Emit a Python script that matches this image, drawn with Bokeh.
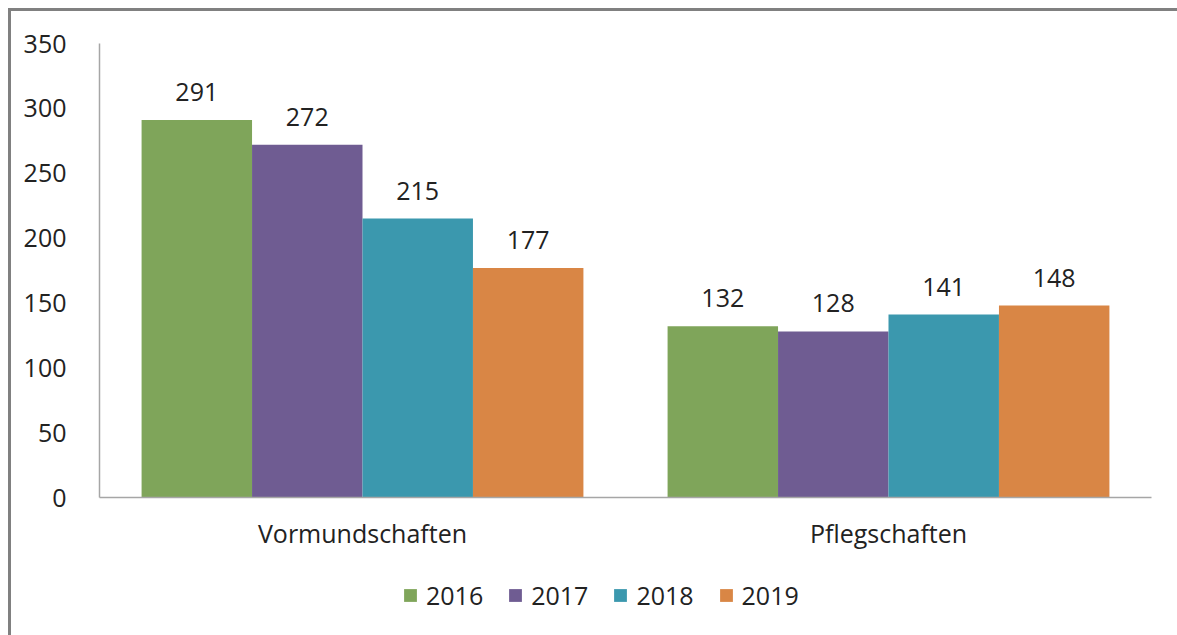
from bokeh.plotting import figure
from bokeh.layouts import column
from bokeh.models import ColumnDataSource, FactorRange, Range1d, Legend, LegendItem, LabelSet, FixedTicker
from bokeh.transform import dodge
from bokeh.core.properties import value
from bokeh.embed import file_html
from bokeh.resources import INLINE

categories = ["Vormundschaften", "Pflegschaften"]
years = ["2016", "2017", "2018", "2019"]
v2016 = [291, 132]
v2017 = [272, 128]
v2018 = [215, 141]
v2019 = [177, 148]
y_ticks = [0, 50, 100, 150, 200, 250, 300, 350]
colors = ["#7FA55A", "#6F5C92", "#3B98AE", "#D98645"]

FONT = "Open Sans"
TXT = "#222222"

series = [v2016, v2017, v2018, v2019]
source = ColumnDataSource(data=dict(cat=categories, **{y: s for y, s in zip(years, series)},
                                    **{"l" + y: [str(v) for v in s] for y, s in zip(years, series)}))

xr = FactorRange(*categories, range_padding=0)
p = figure(width=1166, height=560, x_range=xr,
           y_range=Range1d(0, 350), output_backend="svg", toolbar_location=None,
           min_border_left=88, min_border_top=32, min_border_right=26, min_border_bottom=74,
           outline_line_color=None)

w = 0.21
offsets = [-0.315, -0.105, 0.105, 0.315]
for y, c, off in zip(years, colors, offsets):
    p.vbar(x=dodge("cat", off, range=xr), top=y, width=w, source=source,
           fill_color=c, line_color=None)
    lab = LabelSet(x=dodge("cat", off, range=xr), y=y, text="l" + y, source=source,
                   text_align="center", text_baseline="alphabetic", y_offset=19,
                   text_font=value(FONT), text_font_size="25px", text_color=TXT)
    p.add_layout(lab)

p.xgrid.grid_line_color = None
p.ygrid.grid_line_color = None

p.yaxis.ticker = FixedTicker(ticks=y_ticks)
p.yaxis.major_tick_line_color = None
p.yaxis.minor_tick_line_color = None
p.yaxis.axis_line_color = "#A6A6A6"
p.yaxis.axis_line_width = 1.5
p.yaxis.major_label_standoff = 27
p.yaxis.major_label_text_font = FONT
p.yaxis.major_label_text_font_size = "25px"
p.yaxis.major_label_text_color = TXT

p.xaxis.major_tick_line_color = None
p.xaxis.minor_tick_line_color = None
p.xaxis.axis_line_color = "#A6A6A6"
p.xaxis.axis_line_width = 1.5
p.xaxis.major_label_standoff = 12
p.xaxis.major_label_text_font = FONT
p.xaxis.major_label_text_font_size = "25px"
p.xaxis.major_label_text_color = TXT

# legend strip below the chart (its bars lie outside its visible y range)
q = figure(width=1166, height=64, output_backend="svg", toolbar_location=None,
           x_axis_location=None, y_axis_location=None, min_border=0,
           outline_line_color=None, x_range=xr, y_range=Range1d(400, 500))
q.xgrid.visible = False
q.ygrid.visible = False
items = []
for y, c, off in zip(years, colors, offsets):
    r = q.vbar(x=dodge("cat", off, range=xr), top=y, width=w, source=source,
               fill_color=c, line_color=None)
    items.append(LegendItem(label=y, renderers=[r]))

legend = Legend(items=items, orientation="horizontal", location=(303, 23),
                glyph_width=16, glyph_height=16, label_standoff=8, spacing=24,
                padding=0, margin=0, border_line_color=None, background_fill_alpha=0,
                label_text_font=FONT, label_text_font_size="25px", label_text_color=TXT)
q.add_layout(legend)

layout = column(p, q, spacing=0)
layout.margin = (8, 0, 0, 8)
layout.styles = {"border-top": "3px solid #808080", "border-left": "3px solid #808080"}

open("out.html", "w").write(file_html(layout, INLINE))
